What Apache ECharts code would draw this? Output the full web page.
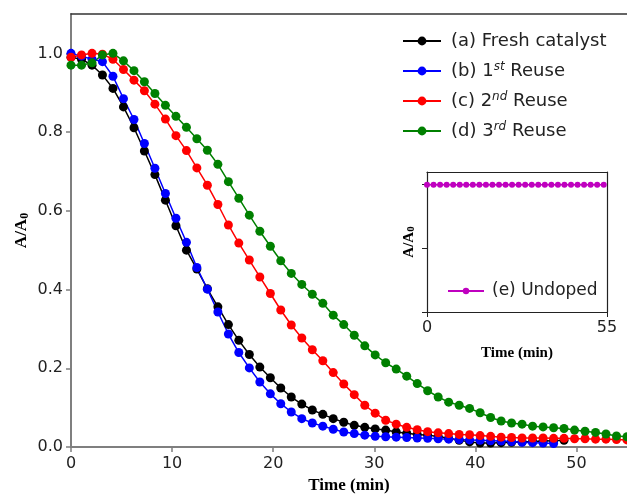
<!DOCTYPE html>
<html>
<head>
<meta charset="utf-8">
<script src="https://cdn.jsdelivr.net/npm/echarts@6/dist/echarts.min.js"></script>
<style>
  html, body { margin: 0; padding: 0; background: #ffffff; }
  #chart { width: 627px; height: 495px; }
</style>
</head>
<body>
<div id="chart"></div>
<script>
// Sampling times (min) shared by the four catalyst runs
const times = [
  0, 1.04, 2.08, 3.11, 4.15, 5.19, 6.23, 7.26, 8.30, 9.34,
  10.38, 11.42, 12.45, 13.49, 14.53, 15.57, 16.60, 17.64, 18.68, 19.72,
  20.75, 21.79, 22.83, 23.87, 24.91, 25.94, 26.98, 28.02, 29.06, 30.09,
  31.13, 32.17, 33.21, 34.25, 35.28, 36.32, 37.36, 38.40, 39.43, 40.47,
  41.51, 42.55, 43.58, 44.62, 45.66, 46.70, 47.74, 48.77, 49.81, 50.85,
  51.89, 52.92, 53.96, 55.00
];

// A/A0 for each run
const freshCatalyst = [
  0.990, 0.985, 0.970, 0.945, 0.911, 0.864, 0.811, 0.752, 0.692, 0.627,
  0.562, 0.500, 0.452, 0.402, 0.356, 0.311, 0.271, 0.235, 0.203, 0.176,
  0.150, 0.127, 0.109, 0.094, 0.083, 0.072, 0.063, 0.055, 0.050, 0.046,
  0.043, 0.038, 0.035, 0.032, 0.030, 0.027, 0.022, 0.017, 0.013, 0.010,
  0.010, 0.011, 0.012, 0.013, 0.014, 0.015, 0.016, 0.017
];
const reuse1 = [
  1.000, 0.993, 0.985, 0.979, 0.942, 0.885, 0.832, 0.771, 0.708, 0.644,
  0.581, 0.520, 0.456, 0.401, 0.343, 0.287, 0.240, 0.201, 0.165, 0.135,
  0.110, 0.089, 0.072, 0.061, 0.053, 0.045, 0.038, 0.034, 0.030, 0.027,
  0.026, 0.025, 0.024, 0.023, 0.022, 0.021, 0.020, 0.019, 0.018, 0.017,
  0.016, 0.015, 0.014, 0.012, 0.011, 0.010, 0.009
];
const reuse2 = [
  0.990, 0.996, 1.000, 0.998, 0.985, 0.959, 0.932, 0.905, 0.871, 0.833,
  0.791, 0.753, 0.709, 0.665, 0.616, 0.564, 0.518, 0.475, 0.432, 0.390,
  0.348, 0.310, 0.277, 0.247, 0.219, 0.189, 0.160, 0.133, 0.106, 0.086,
  0.068, 0.058, 0.050, 0.044, 0.039, 0.036, 0.034, 0.032, 0.031, 0.029,
  0.027, 0.025, 0.024, 0.023, 0.023, 0.023, 0.022, 0.022, 0.021, 0.021,
  0.020, 0.020, 0.019, 0.018
];
const reuse3 = [
  0.970, 0.970, 0.976, 0.996, 1.000, 0.981, 0.956, 0.928, 0.898, 0.868,
  0.840, 0.812, 0.783, 0.754, 0.718, 0.674, 0.632, 0.589, 0.548, 0.510,
  0.473, 0.441, 0.413, 0.388, 0.365, 0.335, 0.311, 0.284, 0.257, 0.234,
  0.214, 0.198, 0.180, 0.161, 0.143, 0.127, 0.114, 0.106, 0.098, 0.087,
  0.075, 0.066, 0.061, 0.058, 0.053, 0.051, 0.049, 0.047, 0.043, 0.040,
  0.037, 0.033, 0.028, 0.026
];

// Undoped sample (inset)
const undopedTimes = [
  0, 2, 4, 6, 8, 10, 12, 14, 16, 18, 20, 22, 24, 26,
  28, 30, 32, 34, 36, 38, 40, 42, 44, 46, 48, 50, 52, 54
];
const undoped = [
  1, 1, 1, 1, 1, 1, 1, 1, 1, 1, 1, 1, 1, 1,
  1, 1, 1, 1, 1, 1, 1, 1, 1, 1, 1, 1, 1, 1
];

// Series names and tick positions
const seriesNames = ['(a) Fresh catalyst', '(b) 1st Reuse', '(c) 2nd Reuse', '(d) 3rd Reuse'];
const legendLabels = ['(a) Fresh catalyst', '(b) 1{sup|st} Reuse', '(c) 2{sup|nd} Reuse', '(d) 3{sup|rd} Reuse'];
const insetName = '(e) Undoped';
const xTicks = [0, 10, 20, 30, 40, 50];
const yTicks = [0, 0.2, 0.4, 0.6, 0.8, 1.0];
const insetXTicks = [0, 55];
const insetYTicks = [0, 0.5, 1.0];

const colors = ['#000000', '#0000ff', '#ff0000', '#008000'];
const runs = [freshCatalyst, reuse1, reuse2, reuse3];

const pair = (xs, ys) => ys.map((v, i) => [xs[i], v]);

const spineGray = '#7f7f7f';
const tickFont = { fontFamily: 'DejaVu Sans', fontSize: 16, color: '#222222' };
const nameFont = { fontFamily: 'Liberation Serif', fontWeight: 'bold', color: '#000000' };

const chart = echarts.init(document.getElementById('chart'), null, { renderer: 'canvas' });

const series = runs.map((vals, k) => ({
  name: seriesNames[k],
  type: 'line',
  xAxisIndex: 0,
  yAxisIndex: 0,
  data: pair(times, vals),
  symbol: 'circle',
  symbolSize: 9,
  showSymbol: true,
  showAllSymbol: true,
  itemStyle: { color: colors[k] },
  lineStyle: { color: colors[k], width: 1.5 },
  emphasis: { disabled: true },
  animation: false
}));

series.push({
  name: insetName,
  type: 'line',
  xAxisIndex: 2,
  yAxisIndex: 2,
  data: pair(undopedTimes, undoped),
  symbol: 'circle',
  symbolSize: 6,
  showAllSymbol: true,
  itemStyle: { color: '#bf00bf' },
  lineStyle: { color: '#bf00bf', width: 1.5 },
  emphasis: { disabled: true },
  animation: false
});

const option = {
  backgroundColor: '#ffffff',
  animation: false,
  grid: [
    { left: 71, top: 14, width: 556, height: 433, containLabel: false, outerBoundsMode: 'none' },
    { left: 427, top: 172, width: 180, height: 140, containLabel: false, outerBoundsMode: 'none', show: true, backgroundColor: '#ffffff', borderWidth: 0 }
  ],
  xAxis: [
    {
      type: 'value', gridIndex: 0, min: 0, max: 55,
      axisLine: { show: true, onZero: false, lineStyle: { color: spineGray, width: 2 } },
      axisTick: { show: true, inside: false, length: 5, customValues: xTicks, lineStyle: { color: spineGray, width: 1.5 } },
      axisLabel: Object.assign({ margin: 9, customValues: xTicks }, tickFont),
      splitLine: { show: false },
      name: 'Time (min)', nameLocation: 'middle', nameGap: 30, nameMoveOverlap: false,
      nameTextStyle: Object.assign({ fontSize: 17 }, nameFont)
    },
    {
      type: 'value', gridIndex: 0, min: 0, max: 55, position: 'top',
      axisLine: { show: true, onZero: false, lineStyle: { color: '#333333', width: 1.5 } },
      axisTick: { show: false }, axisLabel: { show: false }, splitLine: { show: false }
    },
    {
      type: 'value', gridIndex: 1, min: 0, max: 55,
      axisLine: { show: true, onZero: false, lineStyle: { color: '#222222', width: 1.2 } },
      axisTick: { show: true, inside: false, length: 5, customValues: insetXTicks, lineStyle: { color: '#222222', width: 1 } },
      axisLabel: Object.assign({ margin: 8, customValues: insetXTicks }, tickFont),
      splitLine: { show: false },
      name: 'Time (min)', nameLocation: 'middle', nameGap: 34, nameMoveOverlap: false,
      nameTextStyle: Object.assign({ fontSize: 15 }, nameFont)
    },
    {
      type: 'value', gridIndex: 1, min: 0, max: 55, position: 'top',
      axisLine: { show: true, onZero: false, lineStyle: { color: '#222222', width: 1.2 } },
      axisTick: { show: false }, axisLabel: { show: false }, splitLine: { show: false }
    }
  ],
  yAxis: [
    {
      type: 'value', gridIndex: 0, min: 0, max: 1.1,
      axisLine: { show: true, onZero: false, lineStyle: { color: spineGray, width: 2 } },
      axisTick: { show: true, inside: false, length: 5, customValues: yTicks, lineStyle: { color: spineGray, width: 1.5 } },
      axisLabel: Object.assign({ margin: 8, customValues: yTicks, formatter: v => v.toFixed(1) }, tickFont),
      splitLine: { show: false },
      name: 'A/A{s|0}', nameLocation: 'middle', nameGap: 40, nameMoveOverlap: false,
      nameTextStyle: Object.assign({
        fontSize: 17, lineHeight: 18,
        rich: { s: { fontFamily: 'Liberation Serif', fontWeight: 'bold', fontSize: 12, verticalAlign: 'bottom', lineHeight: 12, padding: [8, 0, 0, 0] } }
      }, nameFont)
    },
    {
      type: 'value', gridIndex: 1, min: 0, max: 1.1,
      axisLine: { show: true, onZero: false, lineStyle: { color: '#222222', width: 1.2 } },
      axisTick: { show: true, inside: false, length: 5, customValues: insetYTicks, lineStyle: { color: '#222222', width: 1 } },
      axisLabel: { show: false },
      splitLine: { show: false },
      name: 'A/A{s|0}', nameLocation: 'middle', nameGap: 10, nameMoveOverlap: false,
      nameTextStyle: Object.assign({
        fontSize: 15, lineHeight: 16,
        rich: { s: { fontFamily: 'Liberation Serif', fontWeight: 'bold', fontSize: 11, verticalAlign: 'bottom', lineHeight: 11, padding: [7, 0, 0, 0] } }
      }, nameFont)
    },
    {
      type: 'value', gridIndex: 1, min: 0, max: 1.1, position: 'right',
      axisLine: { show: true, onZero: false, lineStyle: { color: '#222222', width: 1.2 } },
      axisTick: { show: false }, axisLabel: { show: false }, splitLine: { show: false }
    }
  ],
  legend: [
    {
      orient: 'vertical', left: 397, top: 26,
      itemWidth: 38, itemHeight: 11, itemGap: 10,
      data: seriesNames,
      selectedMode: false,
      formatter: name => legendLabels[seriesNames.indexOf(name)],
      textStyle: {
        fontFamily: 'DejaVu Sans', fontSize: 18, color: '#222222', lineHeight: 20,
        padding: [0, 0, 0, 5],
        rich: { sup: { fontFamily: 'DejaVu Sans', fontSize: 12, fontStyle: 'italic', color: '#222222', verticalAlign: 'top', lineHeight: 12 } }
      }
    },
    {
      orient: 'vertical', left: 442, top: 277,
      itemWidth: 36, itemHeight: 8,
      data: [insetName],
      selectedMode: false,
      textStyle: { fontFamily: 'DejaVu Sans', fontSize: 17, color: '#222222', lineHeight: 18, padding: [0, 0, 0, 3] }
    }
  ],
  series: series
};

chart.setOption(option);
</script>
</body>
</html>
